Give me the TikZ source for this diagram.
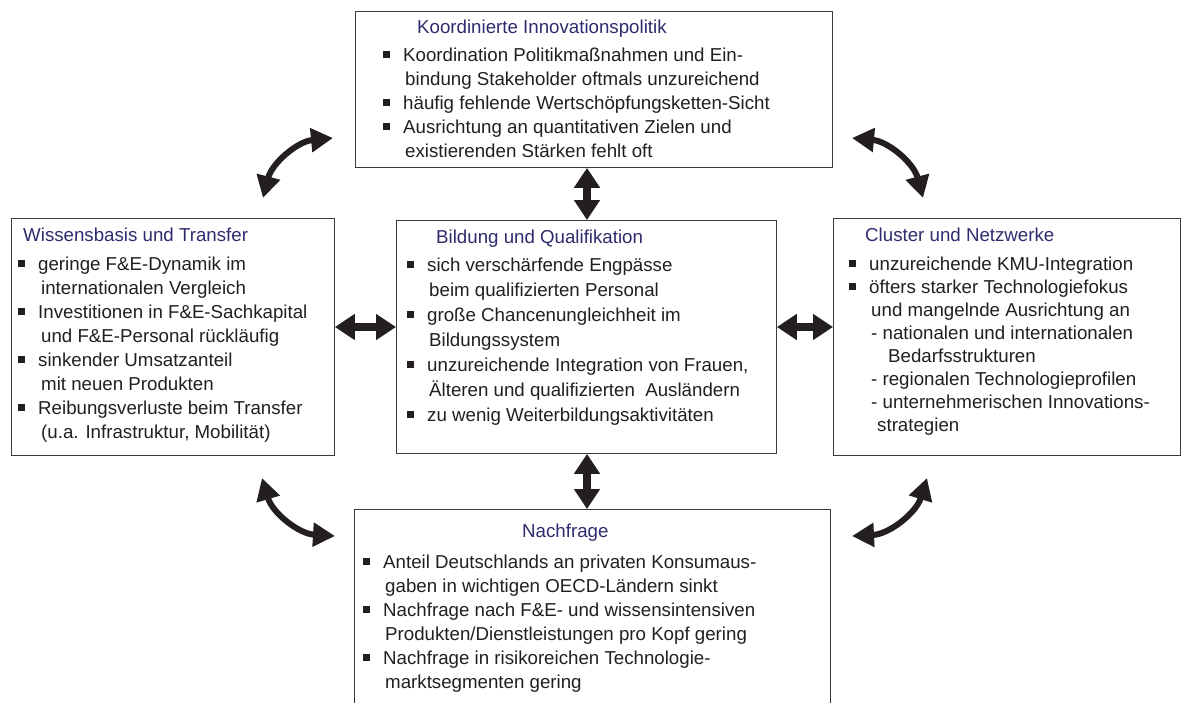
\documentclass[tikz,border=0pt]{standalone}
\usepackage{fontspec}
\setmainfont{Liberation Sans}
\usetikzlibrary{arrows.meta}
\definecolor{txt}{HTML}{231F20}
\definecolor{ttl}{HTML}{2E2B6E}
\definecolor{frm}{HTML}{3A3A3A}
\newcommand{\sq}{\llap{\rule[3.5pt]{6.5pt}{6.5pt}\hspace{13.5pt}}}
\newcommand{\ci}{\hspace*{2pt}}
\begin{document}
\begin{tikzpicture}[x=1pt,y=-1pt,
  box/.style={draw=frm, line width=0.9pt, fill=white, inner sep=0pt, anchor=north west},
  ttlnode/.style={anchor=base west, inner sep=0pt, text=ttl, font=\fontsize{18.7}{24}\selectfont},
  body/.style={anchor=north west, inner sep=0pt, align=left, text=txt},
  dbl/.style={{Triangle[width=25pt,length=20pt]}-{Triangle[width=25pt,length=20pt]}, line width=8pt, draw=txt},
  crv/.style={{Triangle[width=23pt,length=22pt]}-{Triangle[width=23pt,length=22pt]}, line width=6pt, draw=txt}]
\useasboundingbox (0,0) rectangle (1188,702);
\fill[white] (0,0) rectangle (1188,702);
\clip (0,0) rectangle (1188,702);
% boxes
\node[box, minimum width=477pt, minimum height=156pt] (top) at (355,11) {};
\node[box, minimum width=323pt, minimum height=237pt] (left) at (11,218) {};
\node[box, minimum width=380pt, minimum height=233pt] (center) at (396,220) {};
\node[box, minimum width=347pt, minimum height=237pt] (right) at (833,218) {};
\node[box, minimum width=476pt, minimum height=250pt] (bottom) at (354,509) {};
% titles
\node[ttlnode] (topt) at (417,33) {Koordinierte Innovationspolitik};
\node[ttlnode] (leftt) at (23,241) {Wissensbasis und Transfer};
\node[ttlnode] (centert) at (436,243) {Bildung und Qualifikation};
\node[ttlnode] (rightt) at (865,241) {Cluster und Netzwerke};
\node[ttlnode] (bottomt) at (522,537) {Nachfrage};
% bodies
\node[body, font=\fontsize{18.7}{24}\selectfont] (topb) at (403,44.2) {\strut\sq Koordination Politikmaßnahmen und Ein-\\\ci bindung Stakeholder oftmals unzureichend\\\sq häufig fehlende Wertschöpfungsketten-Sicht\\\sq Ausrichtung an quantitativen Zielen und\\\ci existierenden Stärken fehlt oft};
\node[body, font=\fontsize{18.7}{24}\selectfont] (leftb) at (38,253.2) {\strut\sq geringe F\&E-Dynamik im\\\hspace*{3pt}internationalen Vergleich\\\sq Investitionen in F\&E-Sachkapital\\\hspace*{3pt}und F\&E-Personal rückläufig\\\sq sinkender Umsatzanteil\\\hspace*{3pt}mit neuen Produkten\\\sq Reibungsverluste beim Transfer\\\hspace*{3pt}(u.a. Infrastruktur, Mobilität)};
\node[body, font=\fontsize{18.7}{25}\selectfont] (centerb) at (427,253.5) {\strut\sq sich verschärfende Engpässe\\\ci beim qualifizierten Personal\\\sq große Chancenungleichheit im\\\ci Bildungssystem\\\sq unzureichende Integration von Frauen,\\\ci Älteren und qualifizierten~ Ausländern\\\sq zu wenig Weiterbildungsaktivitäten};
\node[body, font=\fontsize{18.7}{23}\selectfont] (rightb) at (869,253.9) {\strut\sq unzureichende KMU-Integration\\\sq öfters starker Technologiefokus\\\ci und mangelnde Ausrichtung an\\\ci - nationalen und internationalen\\\hspace*{19pt}Bedarfsstrukturen\\\ci - regionalen Technologieprofilen\\\ci - unternehmerischen Innovations-\\\hspace*{8pt}strategien};
\node[body, font=\fontsize{18.7}{24}\selectfont] (bottomb) at (383,551.2) {\strut\sq Anteil Deutschlands an privaten Konsumaus-\\\ci gaben in wichtigen OECD-Ländern sinkt\\\sq Nachfrage nach F\&E- und wissensintensiven\\\ci Produkten/Dienstleistungen pro Kopf gering\\\sq Nachfrage in risikoreichen Technologie-\\\ci marktsegmenten gering};
% straight arrows
\coordinate (mx) at (587,0);
\coordinate (my) at (0,327);
\draw[dbl] (top.south -| mx) -- (center.north -| mx);
\draw[dbl] (center.south -| mx) -- (bottom.north -| mx);
\draw[dbl] (left.east |- my) -- (center.west |- my);
\draw[dbl] (center.east |- my) -- (right.west |- my);
% curved arrows
\coordinate (tl1) at (263,198);
\coordinate (tl2) at (333,138);
\coordinate (tr1) at (852,138);
\coordinate (tr2) at (923,198);
\coordinate (bl1) at (262,478);
\coordinate (bl2) at (335,536);
\coordinate (br1) at (852,536);
\coordinate (br2) at (927,478);
\draw[crv] (tl1) to[bend left=35] (tl2);
\draw[crv] (tr1) to[bend left=35] (tr2);
\draw[crv] (bl1) to[bend right=35] (bl2);
\draw[crv] (br1) to[bend right=35] (br2);
\end{tikzpicture}
\end{document}
